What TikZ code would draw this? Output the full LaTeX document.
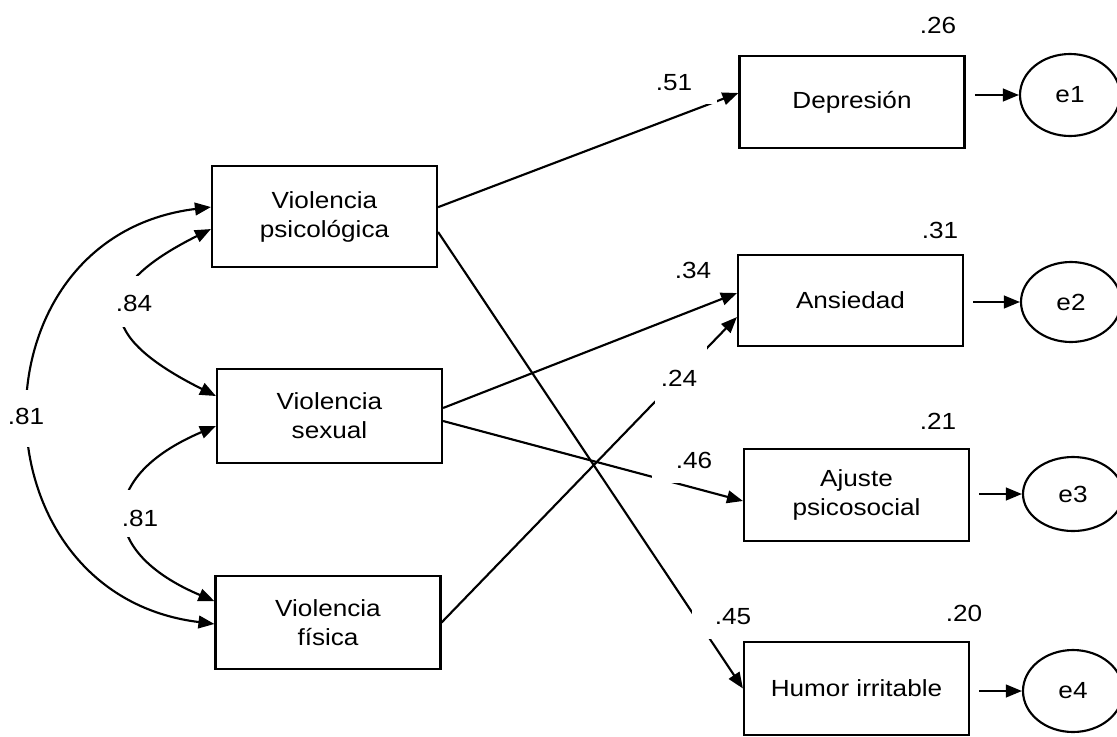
\documentclass[tikz,border=0pt]{standalone}
\usepackage{fontspec}
\setmainfont{Liberation Sans}[FakeStretch=1.12]
\usetikzlibrary{shapes.geometric,arrows.meta,calc}
\begin{document}
\begin{tikzpicture}[x=0.75pt,y=-0.75pt,
  font=\fontsize{17.5}{21.75}\selectfont,
  box/.style={draw,line width=1.6pt,rectangle,minimum width=168.75pt,align=center,inner sep=0pt},
  err/.style={draw,ellipse,line width=1.6pt,minimum width=75pt,inner sep=0pt},
  coef/.style={inner sep=0pt},
  arr/.style={line width=1.6pt,-{Triangle[length=12pt,width=9.5pt]}},
  biarr/.style={line width=1.6pt,{Triangle[length=12pt,width=9.5pt]}-{Triangle[length=12pt,width=9.5pt]}},
  gapfill/.style={fill=white}
]
\useasboundingbox (0,0) rectangle (1117,736);

% boxes
\node[box,minimum height=75.75pt] (psico) at (324.5,216.5) {Violencia\\psicológica};
\node[box,minimum height=70.5pt] (sexual) at (329.5,416) {Violencia\\sexual};
\node[box,minimum height=69.75pt] (fisica) at (328,622.5) {Violencia\\física};
\node[box,minimum height=69pt] (dep) at (852,102) {Depresión};
\node[box,minimum height=68.25pt] (ans) at (850.5,300.5) {Ansiedad};
\node[box,minimum height=69pt] (aju) at (856.5,495) {Ajuste\\psicosocial};
\node[box,minimum height=69.75pt] (hum) at (856.5,688.5) {Humor irritable};

% error terms
\node[err,minimum height=61.5pt] (e1) at (1070,95) {e1};
\node[err,minimum height=60pt] (e2) at (1071,302) {e2};
\node[err,minimum height=55.5pt] (e3) at (1073,494) {e3};
\node[err,minimum height=61.5pt] (e4) at (1073,691) {e4};

\draw[arr] ($(dep.east |- e1.west)+(7pt,0)$) -- (e1.west);
\draw[arr] ($(ans.east |- e2.west)+(7pt,0)$) -- (e2.west);
\draw[arr] ($(aju.east |- e3.west)+(7pt,0)$) -- (e3.west);
\draw[arr] ($(hum.east |- e4.west)+(7pt,0)$) -- (e4.west);

% paths
\draw[arr] ($(psico.east)+(0,7pt)$) -- ($(dep.west)+(0,6.75pt)$);
\draw[arr] ($(psico.east)+(0,-11.6pt)$) -- (hum.west);
\draw[arr] ($(sexual.east)+(0,6pt)$) -- ($(ans.west)+(0,5.6pt)$);
\draw[arr] ($(sexual.east)+(0,-3.75pt)$) -- ($(aju.west)+(0,-4.5pt)$);
\draw[arr] (fisica.east) -- ($(ans.west)+(0,-12.4pt)$);

% correlations
\draw[biarr] ($(psico.west)+(0,-9.4pt)$) .. controls +(-120,60) and +(-120,-60) .. ($(sexual.west)+(0,15pt)$);
\draw[biarr] ($(sexual.west)+(0,-7.5pt)$) .. controls +(-118,50) and +(-118,-50) .. ($(fisica.west)+(0,16pt)$);
\draw[biarr] ($(psico.west)+(0,7.1pt)$) .. controls +(-244,30) and +(-244,-30) .. ($(fisica.west)+(0,-1.1pt)$);

% label backgrounds (gaps in lines)
\fill[gapfill] (640,60) rectangle (717,104);
\fill[gapfill] (655,345) rectangle (707,410);
\fill[gapfill] (652,440) rectangle (716,483);
\fill[gapfill] (692,595) rectangle (755,639);
\fill[gapfill] (110,276) rectangle (160,327);
\fill[gapfill] (5,390) rectangle (50,447);
\fill[gapfill] (115,490) rectangle (165,537);

% coefficients
\node[coef] (l26) at (938,25) {.26};
\node[coef] (l31) at (940,230) {.31};
\node[coef] (l21) at (938,421) {.21};
\node[coef] (l20) at (964,613) {.20};
\node[coef] (l51) at (674,83) {.51};
\node[coef] (l34) at (693,270) {.34};
\node[coef] (l24) at (679,378) {.24};
\node[coef] (l46) at (694,460) {.46};
\node[coef] (l45) at (733,617) {.45};
\node[coef] (l84) at (134,303) {.84};
\node[coef] (l81a) at (26,416) {.81};
\node[coef] (l81b) at (140,518) {.81};
\end{tikzpicture}
\end{document}
